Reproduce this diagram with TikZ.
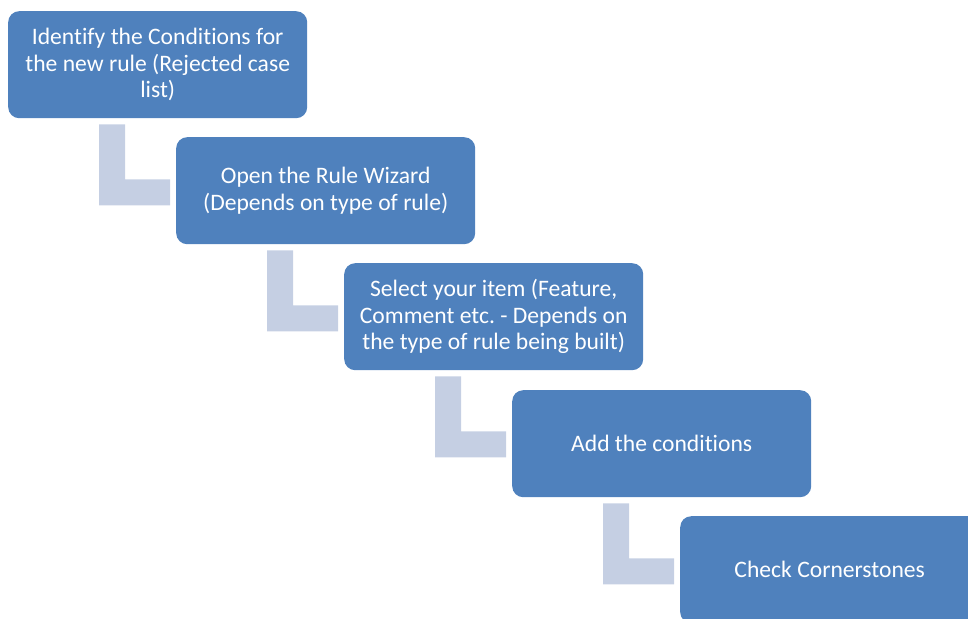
\documentclass[tikz,border=0pt]{standalone}
\usepackage{fontspec}
\setmainfont{Carlito}[Ligatures={NoCommon}]
\frenchspacing
\usetikzlibrary{calc}
\definecolor{boxblue}{HTML}{4F81BD}
\definecolor{lblue}{HTML}{C5CFE3}
\tikzset{
  stepbox/.style={rectangle, rounded corners=11pt, fill=boxblue, draw=none,
    minimum width=299pt, minimum height=107pt, inner sep=0pt, text=white,
    align=center, font=\fontsize{23.6}{26.5}\selectfont, anchor=north west},
  elbow/.style={fill=lblue, draw=none}
}
\newcommand{\elbowshape}[1]{%
  \fill[elbow] ($(#1.south west)+(91,6)$) -- ($(#1.south west)+(117,6)$)
    -- ($(#1.south west)+(117,61)$) -- ($(#1.south west)+(162,61)$)
    -- ($(#1.south west)+(162,87)$) -- ($(#1.south west)+(91,87)$) -- cycle;}
\begin{document}
\begin{tikzpicture}[x=1pt,y=-1pt]
\useasboundingbox (0,0) rectangle (968,618);
\node[stepbox] (b1) at (8,11) {Identify the Conditions for\\the new rule (Rejected case\\list)};
\node[stepbox] (b2) at (176,137) {Open the Rule Wizard\\(Depends on type of rule)};
\node[stepbox] (b3) at (344,263) {Select your item (Feature,\\Comment etc. - Depends on\\the type of rule being built)};
\node[stepbox] (b4) at (512,390) {Add the conditions};
\node[stepbox] (b5) at (680,516) {Check Cornerstones};
\elbowshape{b1}
\elbowshape{b2}
\elbowshape{b3}
\elbowshape{b4}
\end{tikzpicture}
\end{document}
